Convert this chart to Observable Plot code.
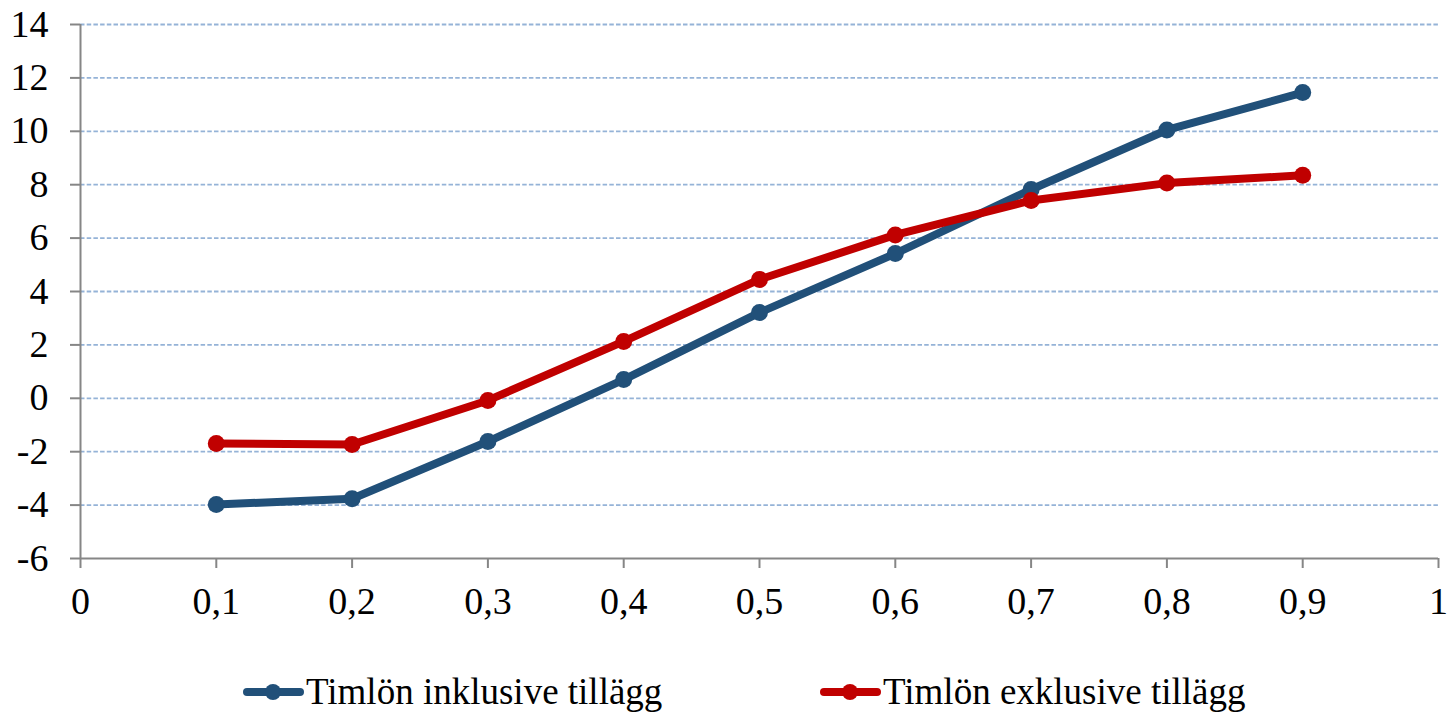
<!DOCTYPE html>
<html>
<head>
<meta charset="utf-8">
<script src="https://cdn.jsdelivr.net/npm/d3@7"></script>
<script src="https://cdn.jsdelivr.net/npm/@observablehq/plot@0.6"></script>
<style>
  html, body { margin: 0; padding: 0; background: #fff; }
  #chart svg { display: block; }
  #chart svg text { font-family: "Liberation Serif", "Times New Roman", serif; font-size: 38px; }
  .legend { position: absolute; top: 672px; left: 0; display: flex; font-family: "Liberation Serif", "Times New Roman", serif; font-size: 37px; line-height: 40px; color: #000; }
  .legend .item { position: absolute; display: flex; align-items: center; white-space: nowrap; }
</style>
</head>
<body>
<div id="chart"></div>
<div class="legend" id="legend"></div>
<script>
const percentiles = [0.1, 0.2, 0.3, 0.4, 0.5, 0.6, 0.7, 0.8, 0.9];
const inklusive = [-3.98, -3.76, -1.62, 0.70, 3.21, 5.42, 7.82, 10.05, 11.45];
const exklusive = [-1.69, -1.73, -0.08, 2.13, 4.45, 6.12, 7.41, 8.06, 8.35];
const seriesNames = ["Timlön inklusive tillägg", "Timlön exklusive tillägg"];
const seriesColors = ["#215079", "#c00000"];
const yTicks = [-6, -4, -2, 0, 2, 4, 6, 8, 10, 12, 14];
const xTicks = [0, 0.1, 0.2, 0.3, 0.4, 0.5, 0.6, 0.7, 0.8, 0.9, 1];

const data = [];
percentiles.forEach((p, i) => {
  data.push({x: p, y: inklusive[i], s: seriesNames[0]});
  data.push({x: p, y: exklusive[i], s: seriesNames[1]});
});

const fmtX = d => String(d).replace(".", ",");
const fmtY = d => String(d);

const chart = Plot.plot({
  width: 1451,
  height: 640,
  marginLeft: 80,
  marginRight: 13,
  marginTop: 24,
  marginBottom: 82,
  style: {fontFamily: "'Liberation Serif', 'Times New Roman', serif", fontSize: "38px", color: "#000", background: "#fff"},
  x: {domain: [0, 1], label: null},
  y: {domain: [-6, 14], label: null},
  color: {domain: seriesNames, range: seriesColors},
  marks: [
    Plot.ruleY(yTicks.filter(d => d > -6), {stroke: "#95b3d7", strokeWidth: 1.8, strokeDasharray: "4.5,2.2"}),
    Plot.axisX({ticks: xTicks, tickFormat: fmtX, tickSize: 10, tickPadding: 19, stroke: "#868686", strokeWidth: 2, strokeOpacity: 1, label: null, fill: "#000"}),
    Plot.axisY({ticks: yTicks, tickFormat: fmtY, tickSize: 10, tickPadding: 22, stroke: "#868686", strokeWidth: 2, strokeOpacity: 1, label: null, fill: "#000"}),
    Plot.ruleX([0], {stroke: "#868686", strokeWidth: 2}),
    Plot.ruleY([-6], {stroke: "#868686", strokeWidth: 2}),
    Plot.line(data, {x: "x", y: "y", z: "s", stroke: "s", strokeWidth: 8, strokeLinejoin: "round"}),
    Plot.dot(data, {x: "x", y: "y", fill: "s", r: 8.5})
  ]
});
document.getElementById("chart").appendChild(chart);

const legend = document.getElementById("legend");
const legendLeft = [242, 819];
seriesNames.forEach((name, i) => {
  const item = document.createElement("div");
  item.className = "item";
  item.style.left = legendLeft[i] + "px";
  item.innerHTML = `<svg width="63" height="20" style="margin-right:1px"><line x1="5" y1="10" x2="58" y2="10" stroke="${seriesColors[i]}" stroke-width="8" stroke-linecap="round"/><circle cx="31" cy="10" r="8" fill="${seriesColors[i]}"/></svg><span>${name}</span>`;
  legend.appendChild(item);
});
</script>
</body>
</html>
